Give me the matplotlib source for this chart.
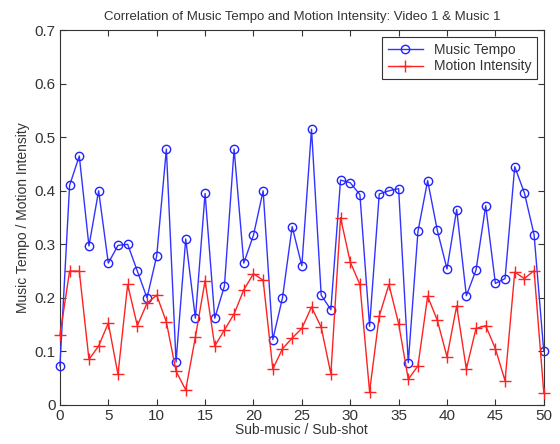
import numpy as np
import matplotlib
matplotlib.use('Agg')
import matplotlib.pyplot as plt

plt.rcParams['font.family'] = ['Liberation Sans', 'DejaVu Sans']

x = np.arange(51)
tempo = [0.073, 0.41, 0.465, 0.297, 0.4, 0.265, 0.298, 0.3, 0.25, 0.2,
         0.278, 0.478, 0.08, 0.31, 0.162, 0.395, 0.162, 0.222, 0.478, 0.265,
         0.317, 0.4, 0.122, 0.2, 0.333, 0.26, 0.515, 0.205, 0.178, 0.42,
         0.415, 0.393, 0.147, 0.394, 0.4, 0.404, 0.079, 0.324, 0.419, 0.326,
         0.254, 0.365, 0.204, 0.252, 0.372, 0.227, 0.236, 0.445, 0.396, 0.318,
         0.1]
motion = [0.13, 0.25, 0.25, 0.085, 0.11, 0.153, 0.057, 0.225, 0.148, 0.19,
          0.205, 0.155, 0.063, 0.028, 0.127, 0.232, 0.11, 0.14, 0.17, 0.215,
          0.245, 0.233, 0.067, 0.105, 0.125, 0.143, 0.183, 0.145, 0.058, 0.35,
          0.267, 0.225, 0.025, 0.166, 0.225, 0.152, 0.048, 0.073, 0.203, 0.158,
          0.09, 0.185, 0.067, 0.143, 0.148, 0.105, 0.045, 0.248, 0.236, 0.251,
          0.023]

txt = '#333333'
fig = plt.figure(figsize=(5.6, 4.44), dpi=100)
ax = fig.add_axes([0.107, 0.088, 0.864, 0.844])

ax.plot(x, tempo, '-o', color='#3333ff', mfc='none', mec='#2222ff', ms=6, lw=1,
        label='Music Tempo', clip_on=False, zorder=3)
ax.plot(x, motion, '-+', color='#ff2222', ms=8, lw=1,
        label='Motion Intensity', clip_on=False, zorder=3)

ax.set_xlim(0, 50)
ax.set_ylim(0, 0.7)
ax.set_xticks(range(0, 51, 5))
ax.set_yticks(np.arange(0, 0.71, 0.1))
ax.set_yticklabels(['0', '0.1', '0.2', '0.3', '0.4', '0.5', '0.6', '0.7'])
ax.tick_params(direction='in', top=True, right=True, labelsize=11, length=4,
               colors=txt, pad=3)
for s in ax.spines.values():
    s.set_color(txt)

ax.set_title('Correlation of Music Tempo and Motion Intensity: Video 1 & Music 1',
             fontsize=9.5, pad=7, color=txt)
ax.set_xlabel('Sub-music / Sub-shot', fontsize=10, labelpad=0, color=txt)
ax.set_ylabel('Music Tempo / Motion Intensity', fontsize=10, labelpad=3, color=txt)

leg = ax.legend(loc='upper right', fontsize=10, fancybox=False, framealpha=1,
                edgecolor=txt, borderaxespad=0.5, handlelength=2.5,
                borderpad=0.4, labelspacing=0.2)
leg.get_frame().set_linewidth(0.8)
for t in leg.get_texts():
    t.set_color(txt)

fig.savefig('out.png', dpi=100)
